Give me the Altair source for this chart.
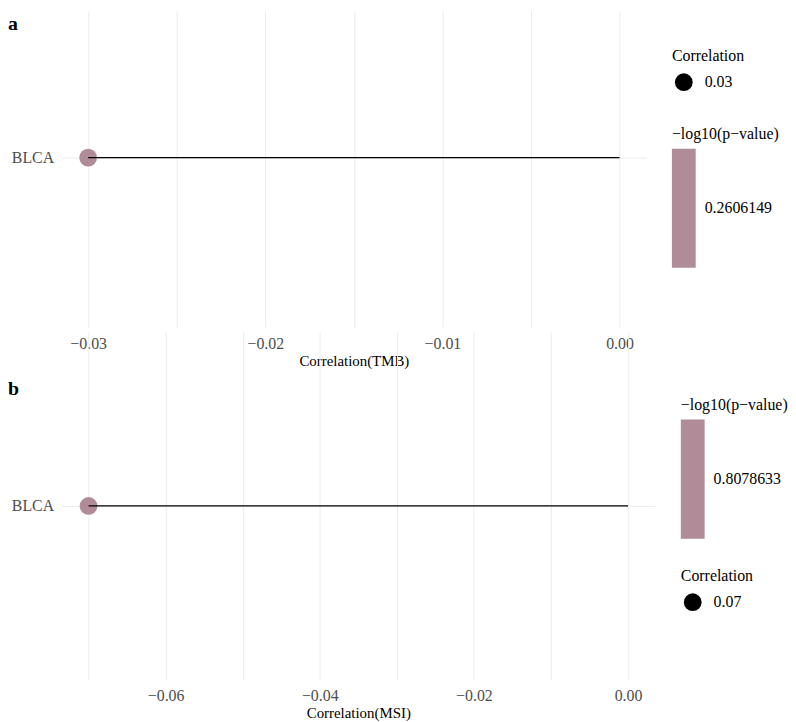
import altair as alt
import pandas as pd

# ---- data ----
cancers = ["BLCA"]
tmb_cor = [-0.03]
tmb_logp = [0.2606149]
msi_cor = [-0.07]
msi_logp = [0.8078633]

tmb_ticks = [-0.03, -0.025, -0.02, -0.015, -0.01, -0.005, 0.0]
msi_ticks = [-0.07, -0.06, -0.05, -0.04, -0.03, -0.02, -0.01, 0.0]

FONT = "Liberation Serif"
MAUVE = "#B08B98"
GRID = "#EBEBEB"


def panel(cor, logp, tag, tag_dy, xtitle, xdomain, xvals, label_expr,
          width, height, yalign, size_pos, color_pos):
    df = pd.DataFrame({"cancer": cancers, "cor": cor, "logp": logp})
    absmax = max(abs(v) for v in cor)
    lp = logp[0]
    base = alt.Chart(df).transform_calculate(absr="abs(datum.cor)")

    x_enc = alt.X(
        "cor:Q",
        scale=alt.Scale(domain=xdomain, nice=False, zero=False),
        axis=alt.Axis(
            title=xtitle, values=xvals, labelExpr=label_expr,
            ticks=False, domain=False, grid=True, gridColor=GRID, gridWidth=1,
            labelPadding=8, titlePadding=2, labelFontSize=16, titleFontSize=15,
            labelColor="#4D4D4D", titleColor="black", titleFontWeight="normal",
            labelFont=FONT, titleFont=FONT,
        ),
    )
    y_enc = alt.Y(
        "cancer:N",
        scale=alt.Scale(type="point", padding=0, align=yalign),
        axis=alt.Axis(
            title=None, ticks=False, domain=False, grid=True, gridColor=GRID,
            gridWidth=1, labelPadding=8, labelFontSize=16, labelColor="#4D4D4D",
            labelFont=FONT,
        ),
    )

    pts = base.mark_point(filled=True, opacity=1).encode(
        x=x_enc,
        y=y_enc,
        color=alt.Color(
            "logp:Q",
            scale=alt.Scale(domain=[lp - 0.1, lp + 0.1], range=[MAUVE, MAUVE]),
            legend=alt.Legend(
                title="\u2212log10(p\u2212value)", type="gradient",
                direction="vertical", orient="none",
                legendX=color_pos[0], legendY=color_pos[1],
                values=[lp], format=".7f", gradientLength=120,
                gradientThickness=24, gradientStrokeWidth=0,
                labelOffset=9, titlePadding=7,
                titleFont=FONT, labelFont=FONT,
            ),
        ),
        size=alt.Size(
            "absr:Q",
            scale=alt.Scale(domain=[0, absmax], range=[0, 320]),
            legend=alt.Legend(
                title="Correlation", orient="none",
                legendX=size_pos[0], legendY=size_pos[1],
                values=[absmax], format=".2f", symbolType="circle",
                symbolFillColor="black", symbolStrokeColor="black",
                symbolOpacity=1, symbolStrokeWidth=0, symbolOffset=3,
                labelOffset=12, titlePadding=9, titleFont=FONT, labelFont=FONT,
            ),
        ),
    )
    seg = base.mark_rule(color="black", strokeWidth=1.4).encode(
        x="cor:Q", x2=alt.datum(0), y="cancer:N"
    )
    return alt.layer(pts, seg).properties(
        width=width, height=height,
        title=alt.Title(
            tag, anchor="start", frame="group", orient="top", offset=0,
            dx=-54, dy=tag_dy, baseline="alphabetic", font=FONT,
            fontSize=20, fontWeight="bold", color="black",
        ),
    )


a = panel(
    tmb_cor, tmb_logp, "a", 39, "Correlation(TMB)", [-0.0315, 0.0015], tmb_ticks,
    "abs(round(datum.value*200)) % 2 == 0 ? format(datum.value, '.2f') : ''",
    589, 319, 0.464, (615, 38), (615, 116),
)
b = panel(
    msi_cor, msi_logp, "b", 83, "Correlation(MSI)", [-0.0735, 0.0035], msi_ticks,
    "abs(round(datum.value*100)) % 2 == 0 ? format(datum.value, '.2f') : ''",
    598, 350, 0.5, (624, 238), (624, 65),
)

chart = (
    alt.vconcat(a, b, spacing=5, bounds="flush")
    .resolve_scale(color="independent", size="independent",
                   x="independent", y="independent")
    .resolve_legend(color="independent", size="independent")
    .properties(padding=0)
    .configure(font=FONT)
    .configure_view(stroke=None)
    .configure_legend(
        titleFont=FONT, labelFont=FONT, titleFontSize=16, labelFontSize=16,
        titleFontWeight="normal", titleColor="black", labelColor="black",
        padding=0,
    )
)

chart.save("out.html", embed_options={"renderer": "svg", "actions": False})
